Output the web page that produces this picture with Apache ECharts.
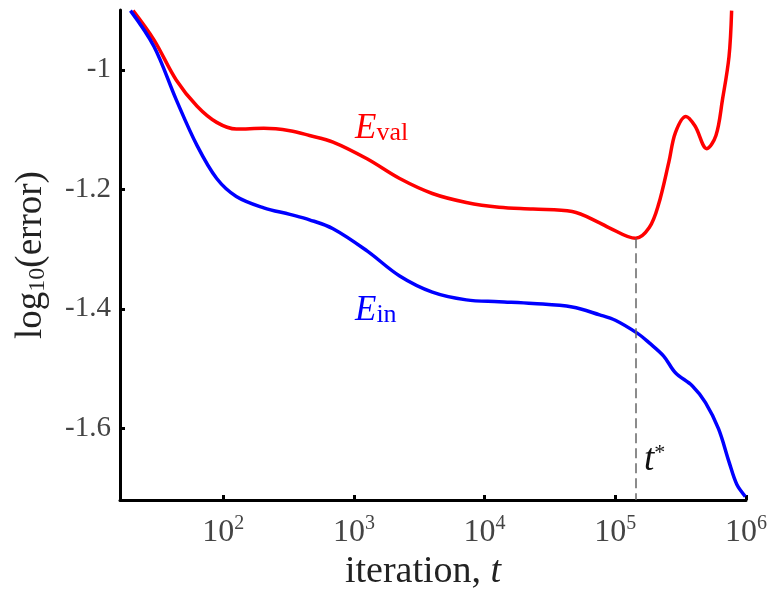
<!DOCTYPE html>
<html>
<head>
<meta charset="utf-8">
<script src="https://cdn.jsdelivr.net/npm/echarts@6/dist/echarts.min.js"></script>
<style>
  html, body { margin: 0; padding: 0; background: #fff; }
  #main { width: 770px; height: 596px; }
</style>
</head>
<body>
<div id="main"></div>
<script>
// x values are log10(iteration)
var xTicks = [2, 3, 4, 5, 6];
var yTicks = [-1, -1.2, -1.4, -1.6];

var valLogT = [1.31, 1.47, 1.64, 1.80, 1.95, 2.10, 2.31, 2.51, 2.66, 2.84, 3.10, 3.35, 3.60, 3.86, 4.11, 4.37, 4.67,
  4.88, 4.95, 5.156, 5.26, 5.33, 5.41, 5.46, 5.54, 5.61, 5.70, 5.77, 5.82, 5.87, 5.89];
var valErr = [-0.901, -0.950, -1.017, -1.061, -1.088, -1.099, -1.098, -1.102, -1.110, -1.121, -1.149, -1.182, -1.207, -1.222, -1.230, -1.233, -1.237,
  -1.256, -1.264, -1.282, -1.264, -1.226, -1.154, -1.105, -1.078, -1.094, -1.132, -1.110, -1.050, -0.978, -0.901];

var inLogT = [1.29, 1.47, 1.64, 1.80, 1.95, 2.10, 2.31, 2.51, 2.66, 2.84, 3.10, 3.35, 3.60, 3.86, 4.11, 4.37, 4.67,
  4.88, 5.00, 5.17, 5.26, 5.37, 5.46, 5.59, 5.69, 5.79, 5.87, 5.93, 5.995];
var inErr = [-0.901, -0.961, -1.050, -1.127, -1.182, -1.212, -1.231, -1.242, -1.251, -1.266, -1.303, -1.345, -1.372, -1.385, -1.388, -1.391, -1.397,
  -1.410, -1.419, -1.441, -1.457, -1.479, -1.507, -1.529, -1.557, -1.601, -1.656, -1.694, -1.714];

var tStar = 5.156;      // log10(t*)
var tStarErr = -1.282;  // E_val at t*

function pairs(xs, ys) {
  var out = [];
  for (var i = 0; i < xs.length; i++) out.push([xs[i], ys[i]]);
  return out;
}

var serif = 'Liberation Serif';
var chart = echarts.init(document.getElementById('main'));

var option = {
  animation: false,
  grid: { left: 120, right: 23, top: 10, bottom: 91 },
  xAxis: {
    type: 'value',
    min: 1.21,
    max: 6,
    name: '{a|iteration, }{i|t}',
    nameLocation: 'middle',
    nameGap: 52,
    nameTextStyle: {
      padding: [0, 20, 0, 0],
      rich: {
        a: { fontFamily: serif, fontSize: 38, color: '#222' },
        i: { fontFamily: serif, fontSize: 38, fontStyle: 'italic', color: '#222' }
      }
    },
    axisLine: { lineStyle: { color: '#000', width: 3 } },
    axisTick: { inside: true, length: 5, customValues: xTicks, lineStyle: { color: '#000', width: 3 } },
    splitLine: { show: false },
    axisLabel: {
      customValues: xTicks,
      margin: 14,
      formatter: function (v) { return '{b|10}{s|' + v + '}'; },
      rich: {
        b: { fontFamily: serif, fontSize: 32, color: '#444', verticalAlign: 'bottom' },
        s: { fontFamily: serif, fontSize: 20, color: '#444', verticalAlign: 'top', padding: [0, 0, 14, 0] }
      }
    }
  },
  yAxis: {
    type: 'value',
    min: -1.72,
    max: -0.9,
    name: '{a|log}{s|10}{a|(error)}',
    nameLocation: 'middle',
    nameGap: 70,
    nameRotate: 90,
    nameTextStyle: {
      rich: {
        a: { fontFamily: serif, fontSize: 37, color: '#222' },
        s: { fontFamily: serif, fontSize: 24, color: '#222', padding: [14, 0, 0, 0] }
      }
    },
    axisLine: { show: true, lineStyle: { color: '#000', width: 3 } },
    axisTick: { show: true, inside: true, length: 5, customValues: yTicks, lineStyle: { color: '#000', width: 3 } },
    splitLine: { show: false },
    axisLabel: {
      customValues: yTicks,
      margin: 9,
      fontFamily: serif,
      fontSize: 29,
      color: '#444',
      formatter: function (v) { return String(v); }
    }
  },
  series: [
    {
      name: 'E_val',
      type: 'line',
      data: pairs(valLogT, valErr),
      smooth: 0.35,
      symbol: 'none',
      clip: true,
      lineStyle: { color: '#ff0000', width: 3.5 },
      markLine: {
        silent: true,
        symbol: 'none',
        label: { show: false },
        lineStyle: { color: '#666', width: 1.5, type: [10, 5] },
        data: [[{ coord: [tStar, tStarErr] }, { coord: [tStar, -1.72] }]]
      },
      z: 3
    },
    {
      name: 'E_in',
      type: 'line',
      data: pairs(inLogT, inErr),
      smooth: 0.35,
      symbol: 'none',
      clip: true,
      lineStyle: { color: '#0000ff', width: 3.5 },
      z: 3
    }
  ],
  graphic: [
    {
      type: 'text', left: 355, top: 111,
      style: {
        text: '{e|E}{s|val}',
        rich: {
          e: { fontFamily: serif, fontSize: 35, fontStyle: 'italic', fill: '#ff0000', verticalAlign: 'bottom' },
          s: { fontFamily: serif, fontSize: 26, fill: '#ff0000', padding: [10, 0, 0, 0] }
        }
      }
    },
    {
      type: 'text', left: 355, top: 293,
      style: {
        text: '{e|E}{s|in}',
        rich: {
          e: { fontFamily: serif, fontSize: 35, fontStyle: 'italic', fill: '#0000ff', verticalAlign: 'bottom' },
          s: { fontFamily: serif, fontSize: 26, fill: '#0000ff', padding: [10, 0, 0, 0] }
        }
      }
    },
    {
      type: 'text', left: 644, top: 442,
      style: {
        text: '{t|t}{s|*}',
        rich: {
          t: { fontFamily: serif, fontSize: 37, fontStyle: 'italic', fill: '#111' },
          s: { fontFamily: serif, fontSize: 22, fill: '#111', padding: [0, 0, 14, 0] }
        }
      }
    }
  ]
};

chart.setOption(option);
</script>
</body>
</html>
